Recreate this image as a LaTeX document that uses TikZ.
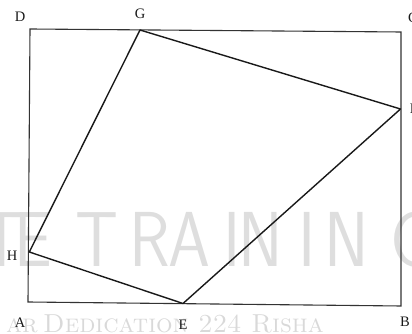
\documentclass[tikz,border=0pt]{standalone}
\usepackage{fontspec}
\newfontfamily\labfont{Liberation Serif}
\begin{document}
\begin{tikzpicture}[x=1pt,y=1pt,
  wmbig/.style={inner sep=0pt, anchor=base, text=black!13, font=\sffamily\fontsize{78}{78}\selectfont},
  wmsmall/.style={inner sep=0pt, text=black!15, font=\rmfamily\fontsize{26}{26}\selectfont},
  lab/.style={inner sep=0pt, font=\labfont\fontsize{14.5}{14.5}\selectfont, text=black!90},
  frame/.style={line width=1.1pt, draw=black!80},
  quad/.style={line width=1.4pt, draw=black!90, line join=round}]
\useasboundingbox (0,0) rectangle (412,334);
\clip (0,0) rectangle (412,334);
% watermark
\foreach \ch/\cx [count=\i] in {T/2, E/33, T/97, R/150, A/189, I/232, N/261, I/307, N/347, G/412}
  \node[wmbig] (wm\i) at (\cx,67) {\scalebox{0.86}[1]{\ch}};
\node[wmsmall, anchor=base east] (war) at (38,1) {\textsc{ar}};
\node[wmsmall, anchor=base west] (wded) at (43,1) {\textsc{Dedication 224 Risha}};
% points
\coordinate (A) at (28,32);
\coordinate (B) at (401,28);
\coordinate (C) at (401,302);
\coordinate (D) at (30,305);
\coordinate (G) at (140,304);
\coordinate (F) at (400.5,225);
\coordinate (E) at (183,30.5);
\coordinate (H) at (29.3,82);
\draw[frame] (A) -- (B) -- (C) -- (D) -- cycle;
\draw[quad] (E) -- (F) -- (G) -- (H) -- cycle;
% labels
\node[lab] (lD) at (20,317) {D};
\node[lab] (lG) at (140,320) {G};
\node[lab] (lC) at (413,316) {C};
\node[lab] (lF) at (414,225) {F};
\node[lab] (lH) at (12,78) {H};
\node[lab] (lA) at (20,11) {A};
\node[lab] (lE) at (183,9) {E};
\node[lab] (lB) at (405,12) {B};
\end{tikzpicture}
\end{document}
